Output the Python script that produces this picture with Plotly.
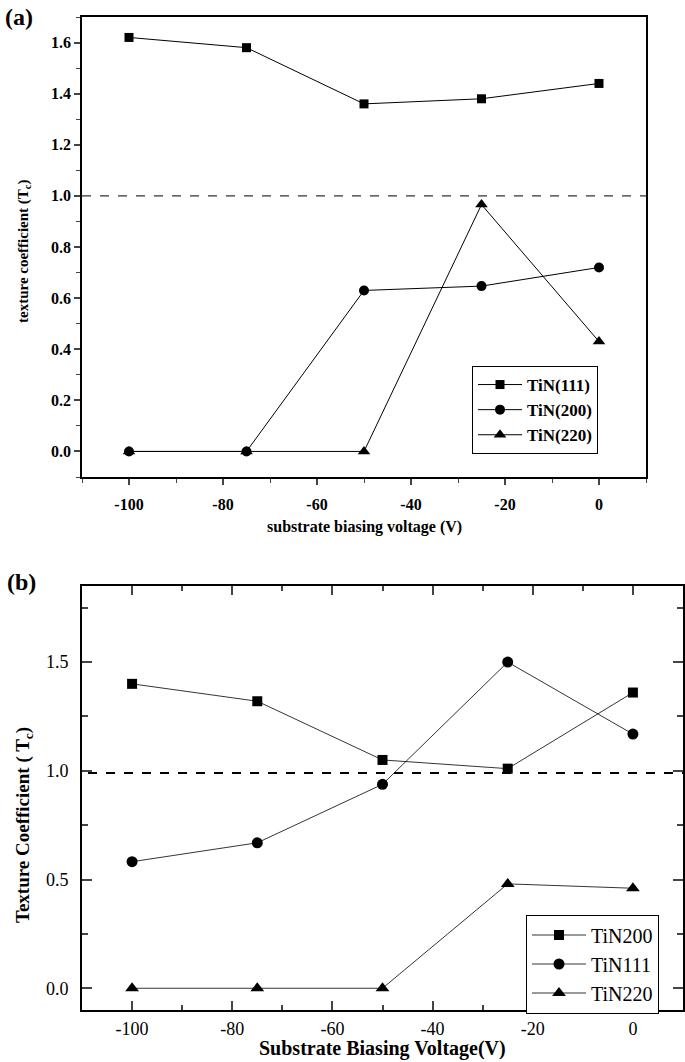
import plotly.graph_objects as go

# ---- data ----
voltage = [-100, -75, -50, -25, 0]

# panel (a)
a_tin111 = [1.62, 1.58, 1.36, 1.38, 1.44]
a_tin200 = [0.0, 0.0, 0.63, 0.647, 0.72]
a_tin220 = [0.0, 0.0, 0.0, 0.966, 0.43]
a_names = ["TiN(111)", "TiN(200)", "TiN(220)"]
a_ref = 1.0

# panel (b)
b_tin200 = [1.40, 1.32, 1.05, 1.01, 1.36]
b_tin111 = [0.582, 0.669, 0.938, 1.50, 1.169]
b_tin220 = [0.0, 0.0, 0.0, 0.48, 0.46]
b_names = ["TiN200", "TiN111", "TiN220"]
b_ref = 0.99

x_ticks = [-100, -80, -60, -40, -20, 0]
x_ticktext = ["-100", "-80", "-60", "-40", "-20", "0"]
b_yticks = [0, 0.5, 1.0, 1.5]
b_yticktext = ["0.0", "0.5", "1.0", "1.5"]

W, H = 685, 1062
SERIF = "Liberation Serif"

def px_x(p):
    return p / W

def px_y(p):
    return (H - p) / H

fig = go.Figure()

symbols = ["square", "circle", "triangle-up"]

for name, ys, sym, sz in zip(a_names, [a_tin111, a_tin200, a_tin220], symbols, [9, 10, 11]):
    fig.add_trace(go.Scatter(
        x=voltage, y=ys, name=name, mode="lines+markers",
        line=dict(color="black", width=1),
        marker=dict(symbol=sym, size=sz, color="black"),
        xaxis="x", yaxis="y", legend="legend",
    ))

for name, ys, sym, sz in zip(b_names, [b_tin200, b_tin111, b_tin220], symbols, [10, 11, 12]):
    fig.add_trace(go.Scatter(
        x=voltage, y=ys, name=name, mode="lines+markers",
        line=dict(color="black", width=0.8),
        marker=dict(symbol=sym, size=sz, color="black"),
        xaxis="x2", yaxis="y2", legend="legend2",
    ))

# reference dashed lines
fig.add_shape(type="line", xref="x domain", yref="y", x0=0, x1=1, y0=a_ref, y1=a_ref,
              line=dict(color="#333333", width=1.2, dash="dash"), layer="below")
fig.add_shape(type="line", xref="x2 domain", yref="y2", x0=0.01, x1=1, y0=b_ref, y1=b_ref,
              line=dict(color="black", width=2, dash="dash"), layer="below")

bold_tick = dict(family=SERIF, size=16, color="black", weight="bold")
reg_tick = dict(family=SERIF, size=18, color="black")

fig.update_layout(
    width=W, height=H,
    margin=dict(l=0, r=0, t=0, b=0),
    paper_bgcolor="white", plot_bgcolor="white",
    font=dict(family=SERIF, color="black"),
    xaxis=dict(
        domain=[px_x(82), px_x(646)], anchor="y",
        range=[-110, 10], tickmode="array", tickvals=x_ticks, ticktext=x_ticktext,
        ticks="outside", ticklen=6, tickwidth=1.5,
        minor=dict(dtick=10, ticks="outside", ticklen=4, tickwidth=1.2, tick0=0),
        showline=True, linecolor="black", linewidth=1.8, mirror=True,
        showgrid=False, zeroline=False, tickfont=bold_tick, ticklabelstandoff=6,
    ),
    yaxis=dict(
        domain=[px_y(477), px_y(17)], anchor="x",
        range=[-0.1, 1.7], dtick=0.2, tick0=0, tickformat=".1f",
        ticks="outside", ticklen=6, tickwidth=1.5,
        minor=dict(dtick=0.1, ticks="outside", ticklen=4, tickwidth=1.2, tick0=0),
        showline=True, linecolor="black", linewidth=1.8, mirror=True,
        showgrid=False, zeroline=False, tickfont=bold_tick,
    ),
    xaxis2=dict(
        domain=[px_x(82), px_x(683)], anchor="y2",
        range=[-110, 10], tickmode="array", tickvals=x_ticks, ticktext=x_ticktext,
        ticks="inside", ticklen=9, tickwidth=1.5,
        minor=dict(dtick=10, ticks="inside", ticklen=5, tickwidth=1.5, tick0=0),
        showline=True, linecolor="black", linewidth=2, mirror="ticks",
        showgrid=False, zeroline=False, tickfont=reg_tick, ticklabelstandoff=1,
    ),
    yaxis2=dict(
        domain=[px_y(1010), px_y(586)], anchor="x2",
        range=[-0.1, 1.85], tickmode="array", tickvals=b_yticks, ticktext=b_yticktext,
        ticks="inside", ticklen=10, tickwidth=1.5,
        minor=dict(dtick=0.25, ticks="inside", ticklen=6, tickwidth=1.5, tick0=0),
        showline=True, linecolor="black", linewidth=2, mirror="ticks",
        showgrid=False, zeroline=False, tickfont=reg_tick, ticklabelstandoff=8,
    ),
    legend=dict(
        x=px_x(472), y=px_y(410), xanchor="left", yanchor="middle",
        bordercolor="black", borderwidth=1, bgcolor="white",
        font=dict(family=SERIF, size=17, color="black", weight="bold"),
        tracegroupgap=0, itemwidth=44,
    ),
    legend2=dict(
        x=px_x(526), y=px_y(964), xanchor="left", yanchor="middle",
        bordercolor="black", borderwidth=1, bgcolor="white",
        font=dict(family=SERIF, size=20, color="black"),
        tracegroupgap=0, itemwidth=54,
    ),
    showlegend=True,
)

def label(text, x, y, size, bold=True, angle=0, anchor="center"):
    fig.add_annotation(text=text, xref="paper", yref="paper", x=px_x(x), y=px_y(y),
                       xanchor=anchor, yanchor="middle", showarrow=False, textangle=angle,
                       font=dict(family=SERIF, size=size, color="black",
                                 weight="bold" if bold else "normal"))

label("(a)", 3, 17, 24, anchor="left")
label("(b)", 5, 582, 24, anchor="left")
label("substrate biasing voltage (V)", 364, 527, 16)
label("texture coefficient (T<sub>c</sub>)", 24, 251, 15, angle=-90)
label("Substrate Biasing Voltage(V)", 382, 1048, 20)
label("Texture Coefficient ( T<sub>c</sub>)", 24, 825, 19, angle=-90)

# remove the browser's default body margin so the figure sits at the page origin
fig.write_html("out.html", config={"displayModeBar": False},
               post_script="document.body.style.margin='0';")
